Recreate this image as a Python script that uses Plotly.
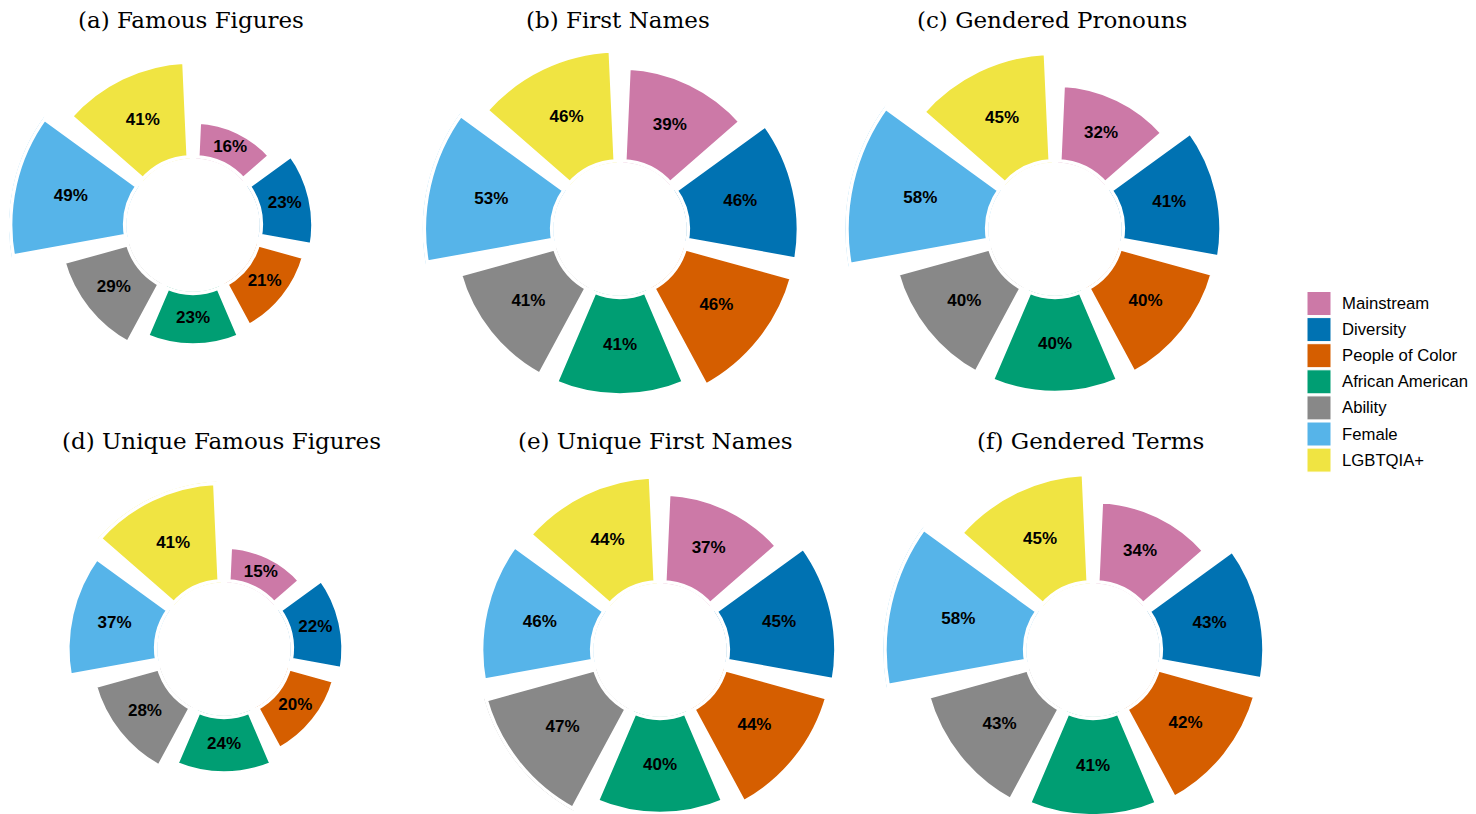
import plotly.graph_objects as go

groups = ["Mainstream", "Diversity", "People of Color", "African American",
          "Ability", "Female", "LGBTQIA+"]
colors = ["#CC79A7", "#0072B2", "#D55E00", "#009E73", "#888888", "#56B4E9", "#F0E442"]

titles = ["(a) Famous Figures", "(b) First Names", "(c) Gendered Pronouns",
          "(d) Unique Famous Figures", "(e) Unique First Names", "(f) Gendered Terms"]

famous_figures = [16, 23, 21, 23, 29, 49, 41]
first_names = [39, 46, 46, 41, 41, 53, 46]
gendered_pronouns = [32, 41, 40, 40, 40, 58, 45]
unique_famous_figures = [15, 22, 20, 24, 28, 37, 41]
unique_first_names = [37, 45, 44, 40, 47, 46, 44]
gendered_terms = [34, 43, 42, 41, 43, 58, 45]

panels = [famous_figures, first_names, gendered_pronouns,
          unique_famous_figures, unique_first_names, gendered_terms]

# the page body has an 8px margin; the bottom roses run a bit past the window,
# so the figure is taller than the visible area
OFF = 8
W, H = 1460, 856


def px(X, Y):
    return (X - OFF) / W, 1 - (Y - OFF) / H


# pixel centres of each rose (page coords) and of its title
centers = [(193, 225), (620, 229), (1055, 229), (224, 649), (660, 650), (1093, 650)]
title_pos = [(191, 20), (618, 20), (1052, 20), (221, 441), (655, 441), (1090, 441)]
hole_px = 66.5
px_per_pct = [2.4, 2.47, 2.47, 2.47, 2.47, 2.47]

fig = go.Figure()

for i, vals in enumerate(panels):
    name = "polar" if i == 0 else "polar%d" % (i + 1)
    cx, cy = centers[i]
    top = max(vals)
    R = hole_px + px_per_pct[i] * top
    x0, y0 = px(cx - R, cy + R)
    x1, y1 = px(cx + R, cy - R)
    fig.add_trace(go.Barpolar(
        r=vals, theta=groups, subplot=name,
        marker=dict(color=colors, line=dict(color="white", width=7)),
        showlegend=False, hoverinfo="skip"))
    fig.add_trace(go.Scatterpolar(
        r=[v / 2 for v in vals], theta=groups, subplot=name, mode="text",
        text=["%d%%" % v for v in vals],
        textfont=dict(family="Arial, Liberation Sans", size=17, color="black", weight="bold"),
        cliponaxis=False, showlegend=False, hoverinfo="skip"))
    fig.update_layout(**{name: dict(
        domain=dict(x=[x0, x1], y=[y0, y1]),
        hole=hole_px / R,
        bgcolor="rgba(0,0,0,0)",
        radialaxis=dict(visible=False, range=[0, top]),
        angularaxis=dict(visible=False, type="category", categoryarray=groups,
                         rotation=90 - 360 / 14, direction="clockwise"),
    )})
    tx, ty = px(*title_pos[i])
    fig.add_annotation(text=titles[i], x=tx, y=ty,
                       xref="paper", yref="paper", xanchor="center", yanchor="middle",
                       showarrow=False, font=dict(family="DejaVu Serif", size=23, color="black"))

# legend drawn by hand so the swatches are the same size as the original
for j, (g, c) in enumerate(zip(groups, colors)):
    yc = 303.5 + 26.1 * j
    sx0, sy0 = px(1307, yc + 12)
    sx1, sy1 = px(1331, yc - 12)
    fig.add_shape(type="rect", xref="paper", yref="paper",
                  x0=sx0, x1=sx1, y0=sy0, y1=sy1,
                  fillcolor=c, line=dict(color="white", width=1))
    lx, ly = px(1340, yc)
    fig.add_annotation(text=g, x=lx, y=ly, xref="paper", yref="paper",
                       xanchor="left", yanchor="middle", showarrow=False,
                       font=dict(family="Arial, Liberation Sans", size=16.7, color="black"))

fig.update_layout(width=W, height=H, margin=dict(l=0, r=0, t=0, b=0),
                  paper_bgcolor="white", plot_bgcolor="white", showlegend=False)

fig.write_html("out.html")
